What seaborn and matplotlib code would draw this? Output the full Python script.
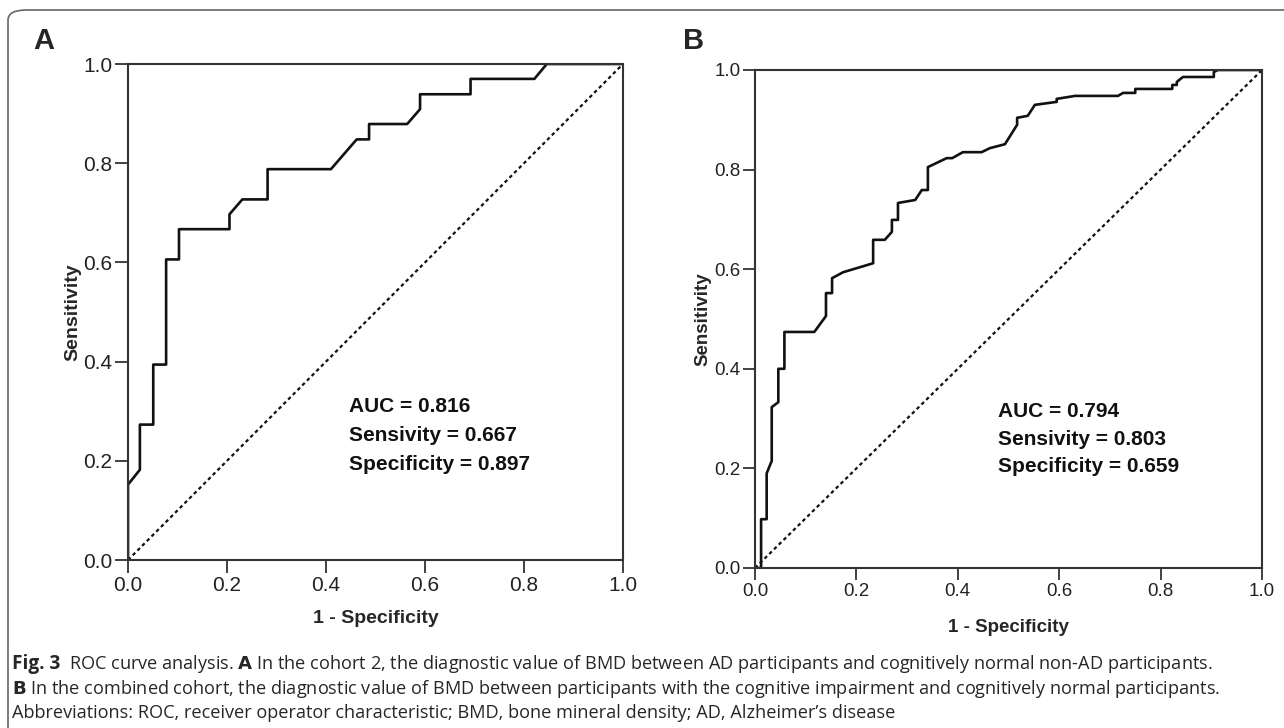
import numpy as np
import pandas as pd
import matplotlib
matplotlib.use("Agg")
import matplotlib.pyplot as plt
import seaborn as sns
from matplotlib.patches import FancyBboxPatch

# ---- data ----
fpr_a = [0.0, 0.0, 0.024, 0.024, 0.051, 0.051, 0.077, 0.077, 0.103, 0.103, 0.205, 0.205,
         0.231, 0.282, 0.282, 0.410, 0.462, 0.487, 0.487, 0.564, 0.590, 0.590, 0.692,
         0.692, 0.821, 0.846, 1.0]
tpr_a = [0.0, 0.152, 0.182, 0.273, 0.273, 0.394, 0.394, 0.606, 0.606, 0.667, 0.667, 0.697,
         0.727, 0.727, 0.788, 0.788, 0.848, 0.848, 0.879, 0.879, 0.909, 0.939, 0.939,
         0.970, 0.970, 1.0, 1.0]

fpr_b = [0.0, 0.012, 0.012, 0.023, 0.023, 0.033, 0.033, 0.046, 0.046, 0.058, 0.058, 0.117,
         0.140, 0.140, 0.152, 0.152, 0.174, 0.207, 0.233, 0.233, 0.256, 0.270, 0.270,
         0.282, 0.282, 0.316, 0.329, 0.341, 0.341, 0.378, 0.389, 0.410, 0.447, 0.463,
         0.493, 0.517, 0.517, 0.538, 0.552, 0.595, 0.595, 0.631, 0.716, 0.726, 0.750,
         0.750, 0.823, 0.823, 0.832, 0.832, 0.844, 0.905, 0.905, 0.913, 1.0]
tpr_b = [0.0, 0.0, 0.098, 0.098, 0.190, 0.215, 0.323, 0.333, 0.400, 0.400, 0.474, 0.474,
         0.506, 0.552, 0.552, 0.582, 0.594, 0.604, 0.612, 0.659, 0.659, 0.675, 0.699,
         0.699, 0.733, 0.739, 0.759, 0.759, 0.805, 0.823, 0.823, 0.835, 0.835, 0.843,
         0.851, 0.890, 0.904, 0.908, 0.930, 0.936, 0.942, 0.948, 0.948, 0.954, 0.954,
         0.962, 0.962, 0.970, 0.970, 0.976, 0.986, 0.986, 0.996, 1.0, 1.0]

stats_a = ["AUC = 0.816", "Sensivity = 0.667", "Specificity = 0.897"]
stats_b = ["AUC = 0.794", "Sensivity = 0.803", "Specificity = 0.659"]
ticks = [0.0, 0.2, 0.4, 0.6, 0.8, 1.0]
tick_labels = ["0.0", "0.2", "0.4", "0.6", "0.8", "1.0"]
ref_line = [0.0, 1.0]

sns.set_theme(style="white")
plt.rcParams["font.family"] = ["Liberation Sans", "DejaVu Sans"]

W, H = 1284, 728
fig = plt.figure(figsize=(W / 100, H / 100), dpi=100)

def rect(l, t, r, b):
    return [l / W, 1 - b / H, (r - l) / W, (b - t) / H]

ax_a = fig.add_axes(rect(128, 64, 623, 560))
ax_b = fig.add_axes(rect(755, 70, 1262, 568))

def draw(ax, fpr, tpr, stats, txy, tfs, lfs, tkfs, spacing, tlen, xpad, ypad):
    df = pd.DataFrame({"fpr": fpr, "tpr": tpr})
    sns.lineplot(data=df, x="fpr", y="tpr", sort=False, estimator=None,
                 color="#111111", lw=1.9, ax=ax)
    ref = pd.DataFrame({"x": ref_line, "y": ref_line})
    sns.lineplot(data=ref, x="x", y="y", sort=False, estimator=None,
                 color="#111111", lw=1.6, ax=ax, linestyle=(0, (1.6, 1.4)))
    ax.set_xlim(0, 1)
    ax.set_ylim(0, 1)
    ax.set_xticks(ticks)
    ax.set_yticks(ticks)
    ax.set_xticklabels(tick_labels, fontsize=tkfs, color="#222222")
    ax.set_yticklabels(tick_labels, fontsize=tkfs, color="#222222")
    ax.tick_params(axis="both", which="both", direction="out", length=tlen,
                   width=1.3, color="#333333", left=True, bottom=True, pad=2)
    for s in ax.spines.values():
        s.set_visible(True)
        s.set_color("#333333")
        s.set_linewidth(1.5)
    ax.set_xlabel("1 - Specificity", fontsize=lfs, fontweight="bold", labelpad=xpad)
    ax.set_ylabel("Sensitivity", fontsize=lfs, fontweight="bold", labelpad=ypad)
    for i, s in enumerate(stats):
        ax.text(txy[0], txy[1] - i * spacing, s, transform=ax.transAxes,
                fontsize=tfs, fontweight="bold", va="center", ha="left", color="#111111")

draw(ax_a, fpr_a, tpr_a, stats_a, (0.446, 0.31), 15, 14, 15, 0.059, 9.5, 11, 1)
draw(ax_b, fpr_b, tpr_b, stats_b, (0.479, 0.315), 15, 13.5, 13.5, 0.056, 8.5, 14, 2)

fig.text(33 / W, 1 - 41 / H, "A", fontsize=21, fontweight="bold", va="center", ha="left")
fig.text(683 / W, 1 - 41 / H, "B", fontsize=21, fontweight="bold", va="center", ha="left")

# caption
cap_font = ["Open Sans", "DejaVu Sans"]
cfs = 13.1
y1, y2, y3 = 1 - 664 / H, 1 - 689 / H, 1 - 713 / H
x0 = 12 / W
t = fig.text(x0, y1, "Fig. 3", fontsize=cfs + 0.6, fontweight="bold", family=cap_font, va="center")
fig.canvas.draw()
r = fig.canvas.get_renderer()
bb = t.get_window_extent(r)
fig.text((bb.x1 + 9) / W, y1,
         "ROC curve analysis. $\\bf{A}$ In the cohort 2, the diagnostic value of BMD between AD participants and cognitively normal non-AD participants.",
         fontsize=cfs, family=cap_font, va="center")
fig.text(x0, y2,
         "$\\bf{B}$ In the combined cohort, the diagnostic value of BMD between participants with the cognitive impairment and cognitively normal participants.",
         fontsize=cfs, family=cap_font, va="center")
fig.text(x0, y3,
         "Abbreviations: ROC, receiver operator characteristic; BMD, bone mineral density; AD, Alzheimer\u2019s disease",
         fontsize=cfs, family=cap_font, va="center")

frame = FancyBboxPatch((8 / W, -30 / H), (W + 40) / W, (H + 20) / H,
                       boxstyle="round,pad=0,rounding_size=0.014",
                       transform=fig.transFigure, fill=False, edgecolor="#666666",
                       linewidth=1.2, clip_on=False)
fig.patches.append(frame)

fig.savefig("out.png", dpi=100)
